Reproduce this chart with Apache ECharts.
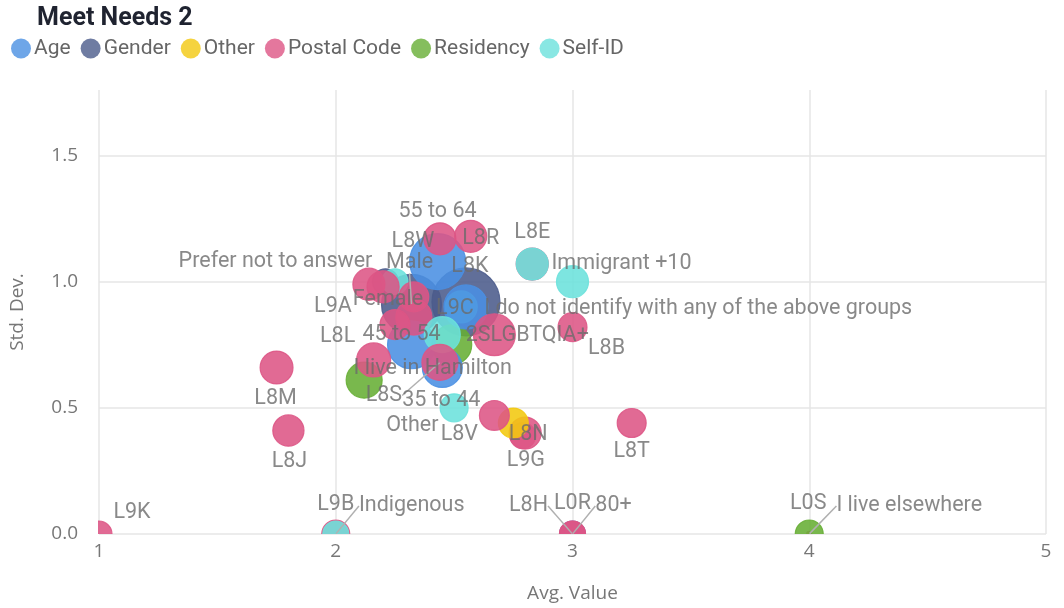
<!DOCTYPE html>
<html>
<head>
<meta charset="utf-8">
<title>Meet Needs 2</title>
<script src="https://cdn.jsdelivr.net/npm/echarts@6/dist/echarts.min.js"></script>
<style>
  html, body { margin: 0; padding: 0; background: #ffffff; }
  #chart { width: 1064px; height: 608px; }
</style>
</head>
<body>
<div id="chart"></div>
<script>
// Respondent groups shown in the legend
const groups = ['Age', 'Gender', 'Other', 'Postal Code', 'Residency', 'Self-ID'];

// One entry per bubble, listed in drawing order (first drawn at the back)
const names = [
  'Male', 'Female', 'Prefer not to answer',
  'I live in Hamilton', 'I do not identify with any of the above groups',
  '55 to 64', '45 to 54', '35 to 44', '', '80+',
  '', 'L0S', 'I live elsewhere',
  'L9K', 'L8M', 'L8J', 'L8T', 'L8B', 'L8E', 'L8W', 'L8R',
  '', 'L9A', '', 'L8K', 'L9C', '', 'L8L', '',
  'L9B', 'L8H', 'L0R', 'L9G', 'L8N', 'Other', 'L8V',
  '2SLGBTQIA+', 'L8S', '', 'Immigrant +10', '', 'Indigenous'
];
const pointGroups = [
  'Gender', 'Gender', 'Gender',
  'Residency', 'Self-ID',
  'Age', 'Age', 'Age', 'Age', 'Age',
  'Residency', 'Postal Code', 'Residency',
  'Postal Code', 'Postal Code', 'Postal Code', 'Postal Code', 'Postal Code', 'Postal Code', 'Postal Code', 'Postal Code',
  'Self-ID', 'Postal Code', 'Postal Code', 'Postal Code', 'Postal Code', 'Postal Code', 'Postal Code', 'Postal Code',
  'Postal Code', 'Postal Code', 'Postal Code', 'Postal Code', 'Postal Code', 'Other', 'Postal Code',
  'Self-ID', 'Postal Code', 'Self-ID', 'Self-ID', 'Self-ID', 'Self-ID'
];
const avgValue = [
  2.32, 2.55, 2.21,
  2.49, 2.53,
  2.43, 2.32, 2.45, 2.55, 3.00,
  2.12, 4.00, 4.00,
  1.00, 1.75, 1.80, 3.25, 3.00, 2.83, 2.44, 2.57,
  2.25, 2.14, 2.20, 2.33, 2.33, 2.25, 2.16, 2.67,
  2.00, 3.00, 3.00, 2.79, 2.80, 2.75, 2.67,
  2.45, 2.44, 2.50, 3.00, 2.83, 2.00
];
const stdDev = [
  0.91, 0.92, 1.00,
  0.75, 0.90,
  1.08, 0.75, 0.66, 0.90, 0.00,
  0.61, 0.00, 0.00,
  0.00, 0.66, 0.41, 0.44, 0.82, 1.07, 1.17, 1.18,
  1.00, 0.99, 0.98, 0.94, 0.86, 0.83, 0.69, 0.79,
  0.00, 0.00, 0.00, 0.39, 0.40, 0.44, 0.47,
  0.79, 0.68, 0.50, 1.00, 1.07, 0.00
];
const responses = [
  133, 171, 25,
  59, 38,
  116, 85, 59, 72, 25,
  48, 1, 29,
  25, 40, 36, 31, 31, 38, 38, 38,
  25, 38, 38, 33, 48, 33, 43, 65,
  29, 25, 25, 25, 38, 33, 33,
  48, 48, 29, 38, 38, 25
];

// Axis ticks
const xTicks = [1, 2, 3, 4, 5];
const yTicks = [0, 0.5, 1.0, 1.5];

// Presentation settings
const groupColors = {
  'Age': '#4A90E2',
  'Gender': '#4B5B8B',
  'Other': '#F2C80F',
  'Postal Code': '#DD5585',
  'Residency': '#67AE34',
  'Self-ID': '#6BE1DC'
};
// Label shift from the bubble centre, in pixels
const labelShift = {
  'Male': [-2, -42], 'Female': [-78, -2], 'Prefer not to answer': [-110, -20],
  'I live in Hamilton': [-19, 24], 'I do not identify with any of the above groups': [237, 2],
  '55 to 64': [0, -50], '45 to 54': [-10, -10], '35 to 44': [-1, 33], '80+': [41, -28],
  'I live elsewhere': [100, -28], 'L0S': [-1, -30], 'Other': [-101, 3],
  'L9K': [33, -21], 'L8M': [-1, 31], 'L8J': [1, 31], 'L8T': [0, 29], 'L8B': [34, 21],
  'L8E': [0, -31], 'L8W': [-27, 3], 'L8R': [10, 2], 'L9A': [-36, 22], 'L8K': [56, -30],
  'L9C': [41, -8], 'L8L': [-36, -23], 'L9B': [0, -29], 'L8H': [-44, -28], 'L0R': [0, -30],
  'L9G': [3, 25], 'L8N': [3, 2], 'L8V': [-35, 19], '2SLGBTQIA+': [85, 1], 'L8S': [-56, 33],
  'Immigrant +10': [49, -18], 'Indigenous': [76, -28]
};
const withLeader = ['Male', '80+', 'I live elsewhere', 'L8H', 'L8S', 'Indigenous'];
const bubbleRadius = n => 2.6 * Math.sqrt(n);

const chart = echarts.init(document.getElementById('chart'), null, { renderer: 'canvas' });

const values = names.map((name, i) => [avgValue[i], stdDev[i], responses[i]]);

const labelPoints = names.map((name, i) => ({
  name: name,
  value: values[i],
  labelLine: { show: withLeader.indexOf(name) >= 0 }
}));

const legendSeries = groups.map(g => ({
  name: g,
  type: 'scatter',
  data: [],
  itemStyle: { color: groupColors[g] }
}));

const yMax = 1.76;

chart.setOption({
  animation: false,
  backgroundColor: '#ffffff',
  title: {
    text: 'Meet Needs 2',
    left: 37,
    top: 5,
    padding: 0,
    textStyle: { fontFamily: 'Roboto', fontWeight: 'bold', fontSize: 25, color: '#1f2330', lineHeight: 28 }
  },
  legend: {
    data: groups,
    left: 11,
    top: 38,
    padding: 0,
    icon: 'circle',
    itemWidth: 20,
    itemHeight: 20,
    itemGap: 10,
    textStyle: { fontFamily: 'Roboto', fontSize: 21, color: '#666666', padding: [0, 0, 0, -2] }
  },
  grid: { left: 98, right: 18, top: 90, bottom: 73.5 },
  xAxis: {
    type: 'value',
    min: xTicks[0],
    max: xTicks[xTicks.length - 1],
    interval: 1,
    name: 'Avg. Value',
    nameLocation: 'middle',
    nameGap: 50,
    nameTextStyle: { fontFamily: 'Open Sans', fontSize: 19, color: '#777777' },
    axisLine: { show: false },
    axisTick: { show: false },
    axisLabel: { fontFamily: 'Open Sans', fontSize: 19, color: '#777777', margin: 8 },
    splitLine: { show: true, lineStyle: { color: '#e6e6e6', width: 1.5 } }
  },
  yAxis: {
    type: 'value',
    min: yTicks[0],
    max: yMax,
    interval: 0.5,
    name: 'Std. Dev.',
    nameLocation: 'middle',
    nameGap: 72,
    nameTextStyle: { fontFamily: 'Open Sans', fontSize: 19, color: '#777777' },
    axisLine: { show: false },
    axisTick: { show: false },
    axisLabel: {
      fontFamily: 'Open Sans', fontSize: 19, color: '#777777', margin: 21,
      showMaxLabel: false,
      formatter: v => (yTicks.indexOf(v) >= 0 ? v.toFixed(1) : '')
    },
    splitLine: { show: true, showMaxLine: false, lineStyle: { color: '#e6e6e6', width: 1.5 } }
  },
  series: legendSeries.concat([
    {
      // bubbles, clipped to the plot area
      name: 'bubbles',
      type: 'custom',
      clip: true,
      data: values,
      encode: { x: 0, y: 1 },
      renderItem: function (params, api) {
        const p = api.coord([api.value(0), api.value(1)]);
        const c = groupColors[pointGroups[params.dataIndex]];
        return {
          type: 'circle',
          shape: { cx: p[0], cy: p[1], r: bubbleRadius(api.value(2)) },
          style: { fill: c, stroke: c, lineWidth: 1.2, opacity: 0.88 }
        };
      },
      silent: true
    },
    {
      // bubble captions
      name: 'captions',
      type: 'scatter',
      clip: false,
      data: labelPoints,
      symbol: 'circle',
      symbolSize: 1,
      itemStyle: { color: 'rgba(0,0,0,0)' },
      label: {
        show: true,
        position: 'inside',
        formatter: '{b}',
        fontFamily: 'Roboto',
        fontSize: 21.5,
        color: '#6b6b6b'
      },
      labelLine: { show: false, lineStyle: { color: '#b0b0b0', width: 1.5 } },
      labelLayout: function (params) {
        const s = labelShift[names[params.dataIndex]];
        return s ? { dx: s[0], dy: s[1] } : {};
      },
      emphasis: { disabled: true },
      silent: true
    }
  ])
});
</script>
</body>
</html>
